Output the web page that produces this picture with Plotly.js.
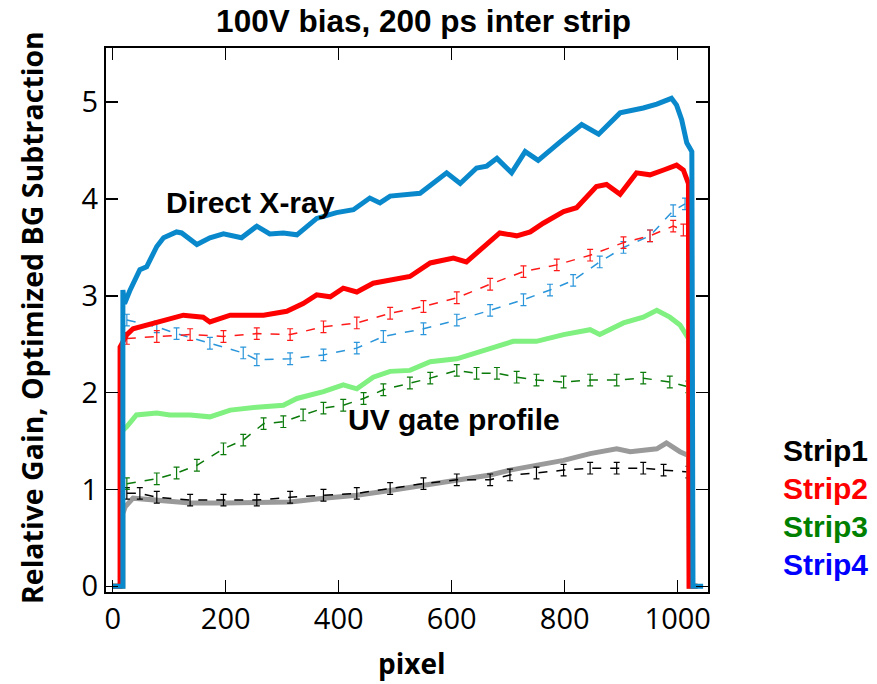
<!DOCTYPE html>
<html>
<head>
<meta charset="utf-8">
<script src="https://cdn.plot.ly/plotly-3.0.1.min.js"></script>
<style>html,body{margin:0;padding:0;background:#fff;}#chart{width:877px;height:684px;}</style>
</head>
<body>
<div id="chart"></div>
<script>
// ---- Direct X-ray (thick lines) ----
const xrayStrip4X = [0, 18, 18, 21, 30, 42, 48, 60, 69, 78, 90, 113, 122, 149, 172, 196, 228, 255, 278, 302, 326, 361, 396, 426, 455, 473, 491, 544, 591, 615, 644, 662, 680, 706, 730, 753, 792, 830, 860, 898, 939, 963, 989, 998, 1007, 1016, 1025, 1027, 1045];
const xrayStrip4Y = [0, 0, 3.06, 2.92, 3.05, 3.18, 3.27, 3.30, 3.41, 3.51, 3.60, 3.66, 3.65, 3.53, 3.60, 3.64, 3.60, 3.72, 3.64, 3.65, 3.63, 3.80, 3.86, 3.89, 4.01, 3.96, 4.03, 4.06, 4.27, 4.16, 4.32, 4.34, 4.42, 4.27, 4.49, 4.40, 4.59, 4.77, 4.67, 4.89, 4.94, 4.98, 5.04, 4.97, 4.82, 4.58, 4.49, 0, 0];

const xrayStrip2X = [0, 13, 13, 25, 36, 78, 125, 160, 172, 208, 267, 308, 337, 361, 385, 408, 432, 461, 491, 526, 562, 603, 626, 656, 685, 715, 739, 762, 798, 821, 856, 874, 898, 927, 951, 975, 998, 1010, 1019, 1020, 1035];
const xrayStrip2Y = [0, 0, 2.47, 2.60, 2.66, 2.72, 2.80, 2.78, 2.73, 2.80, 2.80, 2.84, 2.92, 3.01, 2.99, 3.08, 3.04, 3.13, 3.16, 3.20, 3.34, 3.39, 3.35, 3.51, 3.65, 3.62, 3.66, 3.75, 3.87, 3.91, 4.13, 4.15, 4.05, 4.27, 4.25, 4.30, 4.35, 4.30, 4.16, 0, 0];

const xrayStrip3X = [0, 16, 16, 25, 42, 78, 101, 137, 172, 208, 255, 302, 326, 373, 408, 432, 461, 491, 526, 562, 609, 656, 709, 750, 798, 845, 862, 904, 939, 963, 986, 1004, 1019, 1021, 1035];
const xrayStrip3Y = [0, 0, 1.60, 1.65, 1.77, 1.79, 1.77, 1.77, 1.75, 1.82, 1.85, 1.87, 1.94, 2.01, 2.08, 2.04, 2.16, 2.22, 2.23, 2.32, 2.35, 2.44, 2.53, 2.53, 2.60, 2.65, 2.60, 2.72, 2.78, 2.85, 2.78, 2.70, 2.56, 0, 0];

const xrayStrip1X = [0, 18, 18, 22, 36, 78, 137, 196, 255, 314, 373, 432, 491, 550, 609, 668, 703, 750, 798, 845, 892, 916, 963, 980, 1004, 1019, 1021, 1035];
const xrayStrip1Y = [0, 0, 0.75, 0.82, 0.91, 0.89, 0.86, 0.86, 0.86, 0.87, 0.91, 0.94, 0.99, 1.04, 1.10, 1.15, 1.20, 1.25, 1.30, 1.37, 1.42, 1.39, 1.42, 1.48, 1.39, 1.35, 0, 0];

// ---- UV gate profile (noisy points with error bars) ----
const uvStrip1X = [25, 48, 78, 137, 196, 255, 314, 373, 432, 491, 550, 609, 668, 703, 750, 798, 845, 892, 939, 975, 1019];
const uvStrip1Y = [0.96, 0.96, 0.92, 0.89, 0.89, 0.89, 0.92, 0.94, 0.96, 1.01, 1.06, 1.10, 1.10, 1.15, 1.17, 1.20, 1.22, 1.22, 1.22, 1.20, 1.18];

const uvStrip2X = [25, 78, 137, 196, 255, 314, 373, 432, 491, 550, 609, 668, 727, 786, 845, 904, 951, 992, 1010];
const uvStrip2Y = [2.56, 2.58, 2.60, 2.58, 2.61, 2.60, 2.68, 2.72, 2.82, 2.89, 2.98, 3.12, 3.25, 3.32, 3.42, 3.55, 3.62, 3.72, 3.68];

const uvStrip3X = [25, 78, 113, 149, 196, 231, 267, 302, 337, 373, 408, 444, 479, 526, 562, 609, 644, 680, 715, 750, 798, 845, 892, 939, 986, 1019];
const uvStrip3Y = [1.06, 1.11, 1.17, 1.25, 1.42, 1.51, 1.68, 1.70, 1.77, 1.84, 1.87, 1.94, 2.03, 2.10, 2.15, 2.23, 2.20, 2.20, 2.16, 2.13, 2.11, 2.13, 2.13, 2.15, 2.11, 2.06];

const uvStrip4X = [25, 78, 113, 172, 231, 255, 314, 373, 432, 479, 550, 609, 668, 727, 774, 815, 862, 904, 951, 992, 1013];
const uvStrip4Y = [2.75, 2.68, 2.61, 2.51, 2.41, 2.34, 2.35, 2.39, 2.46, 2.58, 2.66, 2.75, 2.85, 2.96, 3.06, 3.16, 3.35, 3.50, 3.62, 3.88, 3.95];

// ---- text ----
const titleText = "100V bias, 200 ps inter strip";
const xTitle = "pixel";
const yTitle = "Relative Gain, Optimized BG Subtraction";
const xTicks = [0, 200, 400, 600, 800, 1000];
const yTicks = [0, 1, 2, 3, 4, 5];
const legendNames = ["Strip1", "Strip2", "Strip3", "Strip4"];
const legendColors = ["#000000", "#ff0000", "#008000", "#0000ff"];
const labelXray = "Direct X-ray";
const labelUV = "UV gate profile";

function uvTrace(x, y, color) {
  return {
    x: x, y: y, type: 'scatter', mode: 'lines',
    line: {color: color, width: 1.5, dash: 'dash'},
    error_y: {type: 'constant', value: 0.06, color: color, thickness: 1.2, width: 3},
    hoverinfo: 'skip', showlegend: false
  };
}
function thickTrace(x, y, color) {
  return {x: x, y: y, type: 'scatter', mode: 'lines', line: {color: color, width: 5}, hoverinfo: 'skip', showlegend: false};
}

const traces = [
  thickTrace(xrayStrip1X, xrayStrip1Y, '#9a9a9a'),
  uvTrace(uvStrip1X, uvStrip1Y, '#000000'),
  uvTrace(uvStrip3X, uvStrip3Y, '#0a7a0a'),
  uvTrace(uvStrip4X, uvStrip4Y, '#2a95da'),
  uvTrace(uvStrip2X, uvStrip2Y, '#ff1a1a'),
  thickTrace(xrayStrip3X, xrayStrip3Y, '#80f080'),
  thickTrace(xrayStrip2X, xrayStrip2Y, '#ff0000'),
  thickTrace(xrayStrip4X, xrayStrip4Y, '#0a88cc')
];

const sansB = 'Liberation Sans, Arial, sans-serif';
const px2paperX = p => (p - 106) / 602;
const px2paperY = p => 1 - (p - 48) / 544;

const annotations = [
  {text: '<b>' + labelXray + '</b>', x: 91, y: 3.96, xref: 'x', yref: 'y', xanchor: 'left', yanchor: 'middle', showarrow: false, font: {family: sansB, size: 30, color: '#000'}},
  {text: '<b>' + labelUV + '</b>', x: 604, y: 1.72, xref: 'x', yref: 'y', xanchor: 'center', yanchor: 'middle', showarrow: false, font: {family: sansB, size: 30, color: '#000'}},
  {text: '<b>' + yTitle + '</b>', x: px2paperX(32), y: px2paperY(318), xref: 'paper', yref: 'paper', xanchor: 'center', yanchor: 'middle', textangle: -90, showarrow: false, font: {family: 'Open Sans, sans-serif', size: 28.5, color: '#000'}},
  {text: '<b>' + xTitle + '</b>', x: px2paperX(412), y: px2paperY(683), xref: 'paper', yref: 'paper', xanchor: 'center', yanchor: 'bottom', showarrow: false, borderpad: 0, font: {family: 'Open Sans, sans-serif', size: 28, color: '#000'}}
];
legendNames.forEach((n, i) => {
  annotations.push({text: '<b>' + n + '</b>', x: px2paperX(781), y: px2paperY(450 + i * 38), xref: 'paper', yref: 'paper', xanchor: 'left', yanchor: 'middle', showarrow: false,
    font: {family: sansB, size: 30, color: legendColors[i]}});
});

const layout = {
  width: 877, height: 684,
  margin: {l: 106, r: 169, t: 48, b: 92},
  paper_bgcolor: '#fff', plot_bgcolor: '#fff',
  showlegend: false,
  title: {text: '<b>' + titleText + '</b>', x: 0.483, xref: 'container', xanchor: 'center', y: 0.985, yref: 'container', yanchor: 'top',
    font: {family: sansB, size: 31.5, color: '#000'}},
  xaxis: {
    range: [-11.9, 1053.6], tickvals: xTicks, ticktext: xTicks.map(String),
    ticks: 'inside', ticklen: 12, tickwidth: 1.5, tickcolor: '#000',
    showline: true, linecolor: '#000', linewidth: 2, mirror: 'ticks',
    showgrid: false, zeroline: false,
    tickfont: {family: 'Open Sans, sans-serif', size: 29, color: '#000'}
  },
  yaxis: {
    range: [-0.059, 5.56], tickvals: yTicks, ticktext: yTicks.map(String),
    ticks: 'inside', ticklen: 12, tickwidth: 1.5, tickcolor: '#000',
    showline: true, linecolor: '#000', linewidth: 2, mirror: 'ticks',
    showgrid: false, zeroline: false,
    tickfont: {family: 'Open Sans, sans-serif', size: 29, color: '#000'}
  },
  annotations: annotations
};

Plotly.newPlot('chart', traces, layout, {staticPlot: true, displayModeBar: false});
</script>
</body>
</html>
